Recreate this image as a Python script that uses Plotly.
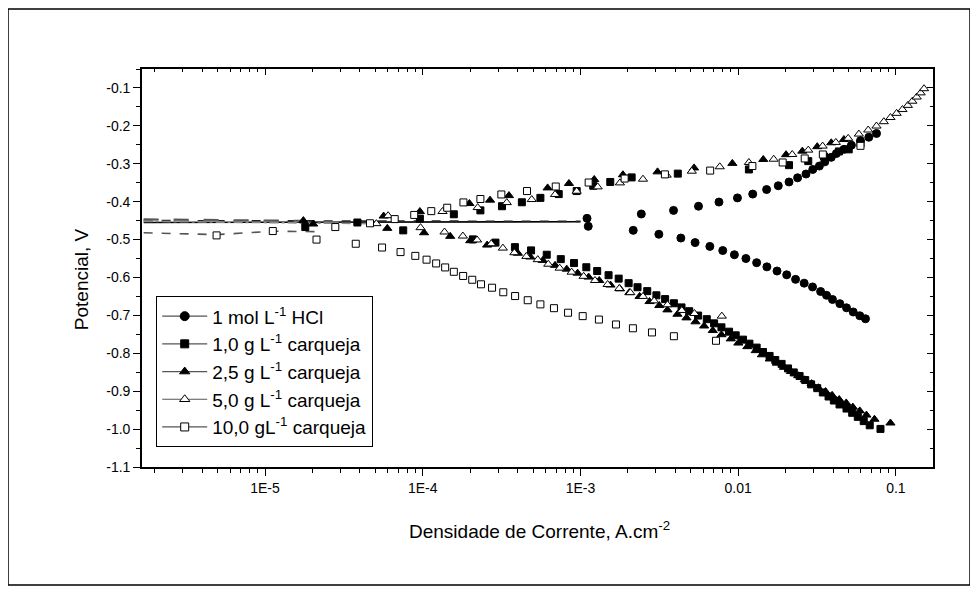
import plotly.graph_objects as go

# ---------------- data ----------------
# 1 mol/L HCl (filled circles)
hcl_i = [1.10e-3, 2.43e-3, 3.89e-3, 5.60e-3, 7.55e-3, 9.89e-3, 1.236e-2, 1.514e-2, 1.795e-2, 2.10e-2,
         2.38e-2, 2.69e-2, 2.97e-2, 3.27e-2, 3.54e-2, 3.89e-2, 4.19e-2, 4.68e-2, 5.22e-2, 5.96e-2, 6.73e-2, 7.53e-2,
         1.12e-3, 2.16e-3, 3.14e-3, 4.33e-3, 5.33e-3, 6.61e-3, 7.98e-3, 9.46e-3, 1.119e-2, 1.309e-2, 1.52e-2,
         1.762e-2, 2.03e-2, 2.31e-2, 2.62e-2, 2.96e-2, 3.33e-2, 3.63e-2, 3.96e-2, 4.41e-2, 4.86e-2, 5.36e-2,
         5.90e-2, 6.41e-2]
hcl_e = [-0.444, -0.4325, -0.423, -0.412, -0.401, -0.390, -0.380, -0.368, -0.358, -0.348,
         -0.337, -0.327, -0.315, -0.306, -0.295, -0.283, -0.273, -0.262, -0.251, -0.239, -0.230, -0.220,
         -0.465, -0.4757, -0.486, -0.496, -0.508, -0.518, -0.529, -0.540, -0.550, -0.561, -0.572,
         -0.583, -0.593, -0.605, -0.615, -0.625, -0.637, -0.647, -0.658, -0.669, -0.680, -0.691,
         -0.701, -0.709]

# 1,0 g/L carqueja (filled squares)
c10_i = [1.80e-5, 3.85e-5, 9.59e-5, 1.574e-4, 2.32e-4, 3.18e-4, 4.25e-4, 5.57e-4, 7.28e-4, 9.46e-4,
         1.205e-3, 1.545e-3, 2.11e-3, 4.14e-3, 1.169e-2, 2.10e-2, 2.78e-2, 3.5e-2, 4.35e-2, 5.02e-2, 5.96e-2,
         7.52e-5, 2.08e-4, 2.89e-4, 3.84e-4, 4.86e-4, 6.11e-4, 7.50e-4, 9.10e-4, 1.089e-3, 1.276e-3, 1.507e-3,
         1.746e-3, 2.02e-3, 2.30e-3, 2.65e-3, 3.03e-3, 3.44e-3, 3.91e-3, 4.37e-3, 4.89e-3, 5.57e-3, 6.32e-3,
         7.03e-3, 7.83e-3, 8.75e-3, 9.64e-3, 1.072e-2, 1.178e-2, 1.309e-2, 1.436e-2, 1.581e-2, 1.718e-2,
         1.884e-2, 2.07e-2, 2.25e-2, 2.45e-2, 2.66e-2, 2.90e-2, 3.17e-2, 3.44e-2, 3.74e-2, 4.04e-2, 4.39e-2,
         4.86e-2, 5.28e-2, 5.73e-2, 6.25e-2, 6.82e-2, 7.98e-2]
c10_e = [-0.467, -0.455, -0.4447, -0.4333, -0.423, -0.412, -0.4016, -0.390, -0.380, -0.372,
         -0.358, -0.348, -0.336, -0.326, -0.315, -0.3037, -0.293, -0.281, -0.2675, -0.262, -0.2464,
         -0.4757, -0.4995, -0.508, -0.520, -0.5286, -0.540, -0.5516, -0.562, -0.573, -0.583, -0.594,
         -0.603, -0.615, -0.6257, -0.636, -0.647, -0.657, -0.668, -0.679, -0.689, -0.7005, -0.710,
         -0.721, -0.7315, -0.743, -0.7526, -0.764, -0.7746, -0.785, -0.7966, -0.807, -0.8177,
         -0.828, -0.840, -0.8505, -0.860, -0.8706, -0.882, -0.892, -0.9034, -0.914, -0.9246, -0.935,
         -0.9458, -0.957, -0.9677, -0.979, -0.990, -0.9995]

# 2,5 g/L carqueja (filled triangles)
c25_i = [1.75e-5, 2.02e-5, 5.65e-5, 9.59e-5, 1.977e-4, 2.67e-4, 3.52e-4, 6.19e-4, 8.45e-4, 1.222e-3,
         1.858e-3, 3.08e-3, 5.25e-3, 9.18e-3, 1.442e-2, 2.01e-2, 2.55e-2, 3.17e-2, 3.89e-2, 4.68e-2,
         5.96e-5, 1.019e-4, 1.493e-4, 2.00e-4, 2.56e-4, 4.01e-4, 4.81e-4, 5.77e-4, 6.90e-4, 8.18e-4, 9.59e-4,
         1.127e-3, 1.315e-3, 1.55e-3, 1.78e-3, 2.04e-3, 2.37e-3, 2.74e-3, 3.16e-3, 3.56e-3, 4.12e-3, 4.70e-3,
         5.36e-3, 6.08e-3, 6.90e-3, 7.83e-3, 8.97e-3, 1.002e-2, 1.143e-2, 1.291e-2, 1.413e-2, 1.585e-2,
         1.758e-2, 1.95e-2, 2.16e-2, 2.40e-2, 2.64e-2, 2.92e-2, 3.22e-2, 3.58e-2, 3.94e-2, 4.37e-2, 4.84e-2,
         5.33e-2, 5.90e-2, 6.50e-2, 7.31e-2, 9.23e-2]
c25_e = [-0.450, -0.459, -0.438, -0.426, -0.405, -0.396, -0.384, -0.3637, -0.352, -0.3415,
         -0.329, -0.3214, -0.311, -0.299, -0.2886, -0.276, -0.2667, -0.255, -0.2447, -0.236,
         -0.4704, -0.482, -0.4915, -0.503, -0.5145, -0.536, -0.546, -0.555, -0.568, -0.578, -0.5886,
         -0.599, -0.608, -0.620, -0.630, -0.640, -0.650, -0.6635, -0.674, -0.6855, -0.697, -0.7066,
         -0.717, -0.728, -0.740, -0.751, -0.762, -0.773, -0.7825, -0.793, -0.804, -0.815,
         -0.826, -0.837, -0.848, -0.859, -0.870, -0.880, -0.891, -0.901, -0.911, -0.922, -0.931,
         -0.942, -0.952, -0.963, -0.974, -0.984]

# 5,0 g/L carqueja (open triangles)
c50_i = [5.08e-5, 6.03e-5, 1.334e-4, 2.23e-4, 3.41e-4, 4.91e-4, 6.90e-4, 9.46e-4, 1.285e-3, 1.778e-3,
         2.49e-3, 3.52e-3, 5.08e-3, 7.64e-3, 1.169e-2, 1.679e-2, 2.20e-2, 2.78e-2, 3.43e-2, 4.16e-2,
         4.98e-2, 5.82e-2, 6.67e-2, 7.53e-2, 8.38e-2, 9.23e-2, 0.101, 0.110, 0.119, 0.127, 0.1355,
         0.1435, 0.1507,
         9.68e-5, 1.374e-4, 1.795e-4, 2.21e-4, 2.72e-4, 3.22e-4, 3.81e-4, 4.54e-4, 5.36e-4, 6.25e-4,
         7.38e-4, 8.79e-4, 1.047e-3, 1.236e-3, 1.486e-3, 1.762e-3, 2.07e-3, 2.49e-3, 2.93e-3, 3.56e-3,
         4.39e-3, 5.28e-3, 7.87e-3]
c50_e = [-0.458, -0.437, -0.426, -0.4156, -0.4024, -0.3944, -0.381, -0.3725, -0.361, -0.3505,
         -0.3407, -0.330, -0.3196, -0.308, -0.2966, -0.288, -0.2755, -0.264, -0.2534, -0.2437,
         -0.233, -0.2217, -0.211, -0.2005, -0.189, -0.178, -0.167, -0.157, -0.146, -0.135, -0.124,
         -0.113, -0.102,
         -0.4686, -0.480, -0.4907, -0.501, -0.511, -0.5225, -0.5347, -0.5444, -0.553, -0.565,
         -0.5754, -0.586, -0.597, -0.608, -0.6185, -0.629, -0.640, -0.650, -0.6617, -0.672,
         -0.687, -0.695, -0.702]

# 10,0 g/L carqueja (open squares)
c100_i = [4.93e-6, 1.12e-5, 2.12e-5, 3.76e-5, 5.52e-5, 7.23e-5, 8.97e-5, 1.057e-4, 1.216e-4, 1.387e-4,
          1.574e-4, 1.803e-4, 2.06e-4, 2.34e-4, 2.75e-4, 3.24e-4, 3.85e-4, 4.63e-4, 5.57e-4, 6.79e-4,
          8.34e-4, 1.033e-3, 1.309e-3, 1.679e-3, 2.15e-3, 2.84e-3, 3.91e-3, 7.23e-3,
          2.79e-5, 4.63e-5, 6.64e-5, 8.83e-5, 1.132e-4, 1.429e-4, 1.811e-4, 2.32e-4, 3.15e-4, 4.58e-4,
          6.97e-4, 1.127e-3, 1.905e-3, 3.43e-3, 6.64e-3, 1.230e-2, 1.914e-2, 2.64e-2, 3.44e-2, 5.96e-2]
c100_e = [-0.489, -0.4775, -0.500, -0.511, -0.521, -0.533, -0.543, -0.553, -0.563, -0.5735,
          -0.585, -0.596, -0.606, -0.618, -0.627, -0.639, -0.649, -0.660, -0.671, -0.681,
          -0.693, -0.702, -0.711, -0.724, -0.734, -0.745, -0.755, -0.767,
          -0.467, -0.457, -0.446, -0.435, -0.425, -0.416, -0.402, -0.393, -0.381, -0.372,
          -0.360, -0.3495, -0.339, -0.328, -0.318, -0.306, -0.2966, -0.286, -0.2755, -0.2527]

# near-Ecorr segments drawn as lines (current, potential)
ecorr_lines = [
    ([1.7e-6, 1.0e-3], [-0.455, -0.453], "#000000", "solid"),
    ([1.7e-6, 1.0e-3], [-0.450, -0.452], "#222222", "dash"),
    ([1.7e-6, 3.8e-5], [-0.448, -0.455], "#777777", "longdash"),
    ([1.7e-6, 1.75e-5], [-0.446, -0.450], "#555555", "longdash"),
    ([1.7e-6, 5.0e-5], [-0.452, -0.458], "#888888", "dashdot"),
    ([1.7e-6, 4.93e-6, 1.12e-5, 2.1e-5], [-0.482, -0.487, -0.478, -0.479], "#555555", "dash"),
]

x_tickvals = [1e-5, 1e-4, 1e-3, 1e-2, 1e-1]
x_ticktext = ["1E-5", "1E-4", "1E-3", "0.01", "0.1"]
y_tickvals = [-0.1, -0.2, -0.3, -0.4, -0.5, -0.6, -0.7, -0.8, -0.9, -1.0, -1.1]
y_ticktext = ["-0.1", "-0.2", "-0.3", "-0.4", "-0.5", "-0.6", "-0.7", "-0.8", "-0.9", "-1.0", "-1.1"]

series = [
    ("1 mol L<sup>-1</sup> HCl", hcl_i, hcl_e, "circle", "black", 8),
    ("1,0 g L<sup>-1</sup> carqueja", c10_i, c10_e, "square", "black", 7),
    ("2,5 g L<sup>-1</sup> carqueja", c25_i, c25_e, "triangle-up", "black", 8),
    ("5,0 g L<sup>-1</sup> carqueja", c50_i, c50_e, "triangle-up", "white", 8),
    ("10,0 gL<sup>-1</sup> carqueja", c100_i, c100_e, "square", "white", 7),
]

FONT = "Liberation Sans, Arial, sans-serif"
fig = go.Figure()

for xs, ys, col, dash in ecorr_lines:
    fig.add_trace(go.Scatter(x=xs, y=ys, mode="lines", showlegend=False, hoverinfo="skip",
                             line=dict(color=col, width=1.6, dash=dash)))

for name, xs, ys, sym, fill, size in series:
    fig.add_trace(go.Scatter(x=xs, y=ys, mode="markers", showlegend=False, name=name,
                             marker=dict(symbol=sym, size=size, color=fill,
                                         line=dict(color="black", width=1))))
# legend entries (line + symbol)
for name, xs, ys, sym, fill, size in series:
    fig.add_trace(go.Scatter(x=[None], y=[None], mode="lines+markers", name=name,
                             line=dict(color="#555555", width=1.2),
                             marker=dict(symbol=sym, size=size + 1, color=fill,
                                         line=dict(color="black", width=1))))

# dummy trace for mirror axes
fig.add_trace(go.Scatter(x=[None], y=[None], xaxis="x2", yaxis="y2", showlegend=False))

minor_x = []
for d in [1e-6, 1e-5, 1e-4, 1e-3, 1e-2, 1e-1]:
    for m in range(2, 10):
        minor_x.append(m * d)

xrange = [-5.78, -0.765]
yrange = [-1.1, -0.05]

fig.update_layout(
    width=978, height=592,
    paper_bgcolor="white", plot_bgcolor="white",
    margin=dict(l=134, r=53, t=61, b=133),
    font=dict(family=FONT, size=14, color="black"),
    showlegend=True,
    legend=dict(x=0.0177, y=0.05, xanchor="left", yanchor="bottom",
                bgcolor="white", bordercolor="black", borderwidth=1.2,
                font=dict(size=19, family=FONT), itemwidth=45, tracegroupgap=0,
                itemsizing="trace"),
    xaxis=dict(type="log", range=xrange, tickvals=x_tickvals, ticktext=x_ticktext,
               ticks="outside", ticklen=7, tickwidth=1.3, tickcolor="black",
               showline=True, linecolor="black", linewidth=1.6, showgrid=False, zeroline=False,
               minor=dict(tickvals=minor_x, ticks="outside", ticklen=4, tickwidth=1, tickcolor="black"),
               tickfont=dict(size=14)),
    yaxis=dict(range=yrange, tickvals=y_tickvals, ticktext=y_ticktext,
               ticks="outside", ticklen=7, tickwidth=1.3, tickcolor="black",
               showline=True, linecolor="black", linewidth=1.6, showgrid=False, zeroline=False,
               minor=dict(dtick=0.05, ticks="outside", ticklen=4, tickwidth=1, tickcolor="black"),
               tickfont=dict(size=14)),
    xaxis2=dict(type="log", range=xrange, overlaying="x", side="top", tickvals=x_tickvals,
                showticklabels=False, ticks="inside", ticklen=6, tickwidth=1.3, tickcolor="black",
                showline=True, linecolor="black", linewidth=1.6, showgrid=False, zeroline=False,
                minor=dict(tickvals=minor_x, ticks="inside", ticklen=3, tickwidth=1, tickcolor="black")),
    yaxis2=dict(range=yrange, overlaying="y", side="right", tickvals=y_tickvals,
                showticklabels=False, ticks="inside", ticklen=6, tickwidth=1.3, tickcolor="black",
                showline=True, linecolor="black", linewidth=1.6, showgrid=False, zeroline=False,
                minor=dict(dtick=0.05, ticks="inside", ticklen=3, tickwidth=1, tickcolor="black")),
    annotations=[
        dict(text="Potencial, V", xref="paper", yref="paper", x=-0.0771, y=0.472,
             textangle=-90, showarrow=False, font=dict(size=19, family=FONT),
             xanchor="center", yanchor="middle"),
        dict(text="Densidade de Corrente, A.cm<sup>-2</sup>", xref="paper", yref="paper",
             x=0.503, y=-0.158, showarrow=False, font=dict(size=19, family=FONT),
             xanchor="center", yanchor="middle"),
    ],
    shapes=[dict(type="rect", xref="paper", yref="paper", x0=-0.1694, x1=1.0468,
                 y0=-0.2965, y1=1.1508, line=dict(color="black", width=1.5))],
)

fig.write_html("out.html")
